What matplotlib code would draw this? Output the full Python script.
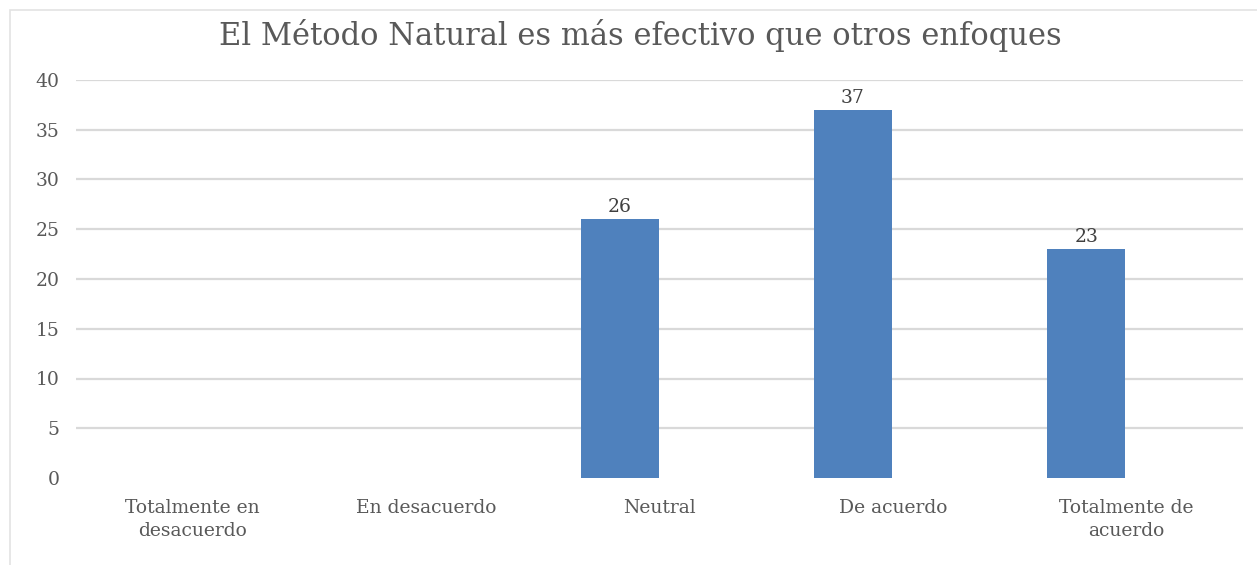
import matplotlib
matplotlib.use("Agg")
import matplotlib.pyplot as plt
import numpy as np
from matplotlib.patches import Rectangle

categories = ["Totalmente en\ndesacuerdo", "En desacuerdo", "Neutral",
              "De acuerdo", "Totalmente de\nacuerdo"]
values = [0, 0, 26, 37, 23]
yticks = [0, 5, 10, 15, 20, 25, 30, 35, 40]
title = "El Método Natural es más efectivo que otros enfoques"

BAR = "#4F81BD"
GRID = "#D9D9D9"
TXT = "#595959"
FONT = "DejaVu Serif"

fig = plt.figure(figsize=(12.57, 5.65), dpi=100)
fig.patch.set_facecolor("white")
# chart frame
fig.add_artist(Rectangle((10 / 1257, -0.01), 1.2, 1 - 10 / 565 + 0.01,
                         transform=fig.transFigure, fill=False,
                         edgecolor="#E3E3E3", linewidth=1.2))

ax = fig.add_axes([76 / 1257, 1 - 478 / 565, (1243 - 76) / 1257, (478 - 80) / 565])
x = np.arange(len(categories))
shown = [v if v > 0 else np.nan for v in values]
bars = ax.bar(x - 0.171, shown, width=0.334, color=BAR, zorder=3)
for xi, v in zip(x, values):
    if v > 0:
        ax.text(xi - 0.171, v + 0.3, str(v), ha="center", va="bottom",
                fontsize=13.5, color="#404040", family=FONT)

ax.set_xlim(-0.5, len(categories) - 0.5)
ax.set_ylim(0, 40)
ax.set_yticks(yticks)
ax.set_yticklabels([str(t) for t in yticks], fontsize=13.5, color=TXT, family=FONT)
ax.set_xticks(x)
ax.set_xticklabels(categories, fontsize=13.5, color=TXT, family=FONT, linespacing=1.4)
ax.tick_params(length=0, pad=15)
ax.tick_params(axis="y", pad=12)
for s in ax.spines.values():
    s.set_visible(False)
for t in yticks[1:]:
    ax.axhline(t, color=GRID, linewidth=1.6, zorder=1)

fig.text(640 / 1257, 1 - 35 / 565, title, ha="center", va="center",
         fontsize=22, color=TXT, family=FONT)

fig.savefig("out.png", dpi=100)
